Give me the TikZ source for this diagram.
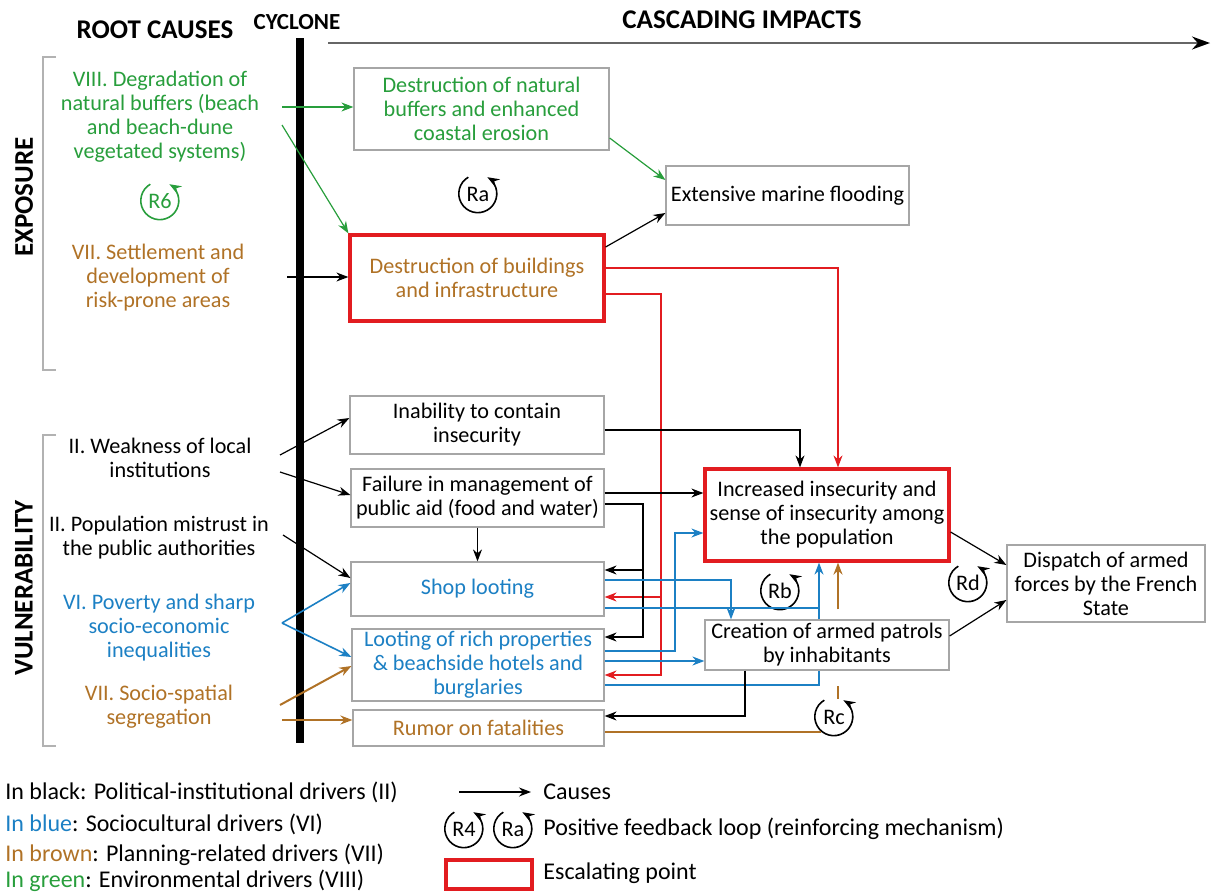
\documentclass[tikz,border=0pt]{standalone}
\usepackage{fontspec}
\setmainfont{Carlito}
\usetikzlibrary{arrows.meta}
\definecolor{cgreen}{RGB}{40,158,60}
\definecolor{cbrown}{RGB}{176,114,38}
\definecolor{cblue}{RGB}{28,128,196}
\definecolor{cred}{RGB}{226,28,32}
\tikzset{>={Stealth[length=6pt,width=4.5pt]}}
\newcommand{\fbloop}[2][black]{\draw[->, #1, line width=0.8pt] (#2.120) arc[start angle=120, end angle=420, radius=9.5pt];}

\begin{document}
\begin{tikzpicture}[x=0.5pt,y=-0.5pt,
    txt/.style={align=center, inner sep=0pt, font=\fontsize{11.1}{12}\selectfont},
    lgtxt/.style={anchor=west, inner sep=0pt, font=\fontsize{12}{14}\selectfont},
    box/.style={txt, draw=gray!70, line width=0.6pt, fill=white},
    escal/.style={txt, draw=cred, line width=1.6pt, fill=white},
    head/.style={inner sep=0pt, font=\fontsize{13.5}{16}\selectfont\bfseries},
    lp/.style={circle, inner sep=0pt, minimum size=19pt, font=\fontsize{11.1}{12}\selectfont},
    blk/.style={->, line width=0.6pt},
    grn/.style={->, cgreen, line width=0.6pt},
    brn/.style={->, cbrown, line width=1pt},
    blu/.style={->, cblue, line width=0.8pt},
    rd/.style={->, cred, line width=0.6pt}]
\useasboundingbox (0,0) rectangle (1211,894);

% headings
\node[head] (root) at (155,30) {ROOT CAUSES};
\node[head, font=\fontsize{11.5}{14}\selectfont\bfseries] (cyc) at (297,22) {CYCLONE};
\node[head] (casc) at (742,20) {CASCADING IMPACTS};
\node[head, rotate=90] (expo) at (24,197) {EXPOSURE};
\node[head, rotate=90] (vuln) at (24,588) {VULNERABILITY};
\coordinate (tl0) at (328,43);
\coordinate (tl1) at (1210,43);
\draw[gray!80!black, line width=0.8pt, -{Stealth[black,length=9pt,width=6.5pt]}] (tl0) -- (tl1);
\draw[line width=4pt] (300,38) -- (300,743);
\draw[gray!60, line width=0.6pt] (56,57) -| (43,370) -- (56,370);
\draw[gray!60, line width=0.6pt] (56,435) -| (43,746) -- (56,746);

% root causes
\node[txt, text=cgreen] (deg) at (160,117) {VIII. Degradation of\\natural buffers (beach\\and beach-dune\\vegetated systems)};
\node[lp, text=cgreen] (r6) at (160,201) {R6};
\node[txt, text=cbrown] (settle) at (158,278) {VII. Settlement and\\development of\\risk-prone areas};
\node[txt] (weak) at (160,458) {II. Weakness of local\\institutions};
\node[txt] (mistr) at (159,538) {II. Population mistrust in\\the public authorities};
\node[txt, text=cblue] (pov) at (159,628) {VI. Poverty and sharp\\socio-economic\\inequalities};
\node[txt, text=cbrown] (segr) at (159,707) {VII. Socio-spatial\\segregation};

% impacts
\node[box, text=cgreen, minimum width=127.5pt, minimum height=41pt] (nat) at (481.5,109) {Destruction of natural\\buffers and enhanced\\coastal erosion};
\node[escal, text=cbrown, minimum width=127pt, minimum height=43pt] (bld) at (477,278) {Destruction of buildings\\and infrastructure};
\node[box, minimum width=121.5pt, minimum height=29.5pt] (flood) at (787.5,195.5) {Extensive marine flooding};
\node[box, minimum width=127pt, minimum height=29pt] (inab) at (477,425) {Inability to contain\\insecurity};
\node[box, minimum width=126.5pt, minimum height=29pt] (fail) at (477.5,498) {Failure in management of\\public aid (food and water)};
\node[box, text=cblue, minimum width=126.5pt, minimum height=27pt] (shop) at (477.5,589) {Shop looting};
\node[box, text=cblue, minimum width=126pt, minimum height=36pt] (rich) at (478,665) {Looting of rich properties\\\& beachside hotels and\\burglaries};
\node[box, text=cbrown, minimum width=125.5pt, minimum height=18pt] (rumor) at (478.5,728) {Rumor on fatalities};
\node[escal, minimum width=122pt, minimum height=46pt] (insec) at (827,515) {Increased insecurity and\\sense of insecurity among\\the population};
\node[box, minimum width=122pt, minimum height=25pt] (patrol) at (827,645) {Creation of armed patrols\\by inhabitants};
\node[box, minimum width=99pt, minimum height=38.5pt] (disp) at (1106,583.5) {Dispatch of armed\\forces by the French\\State};

% loops
\node[lp] (ra) at (478,194) {Ra};
\node[lp] (rb) at (780,591) {Rb};
\node[lp] (rc) at (834,717) {Rc};
\node[lp] (rd) at (968,583) {Rd};
\foreach \l in {ra,rb,rc,rd} {\fbloop{\l}}
\fbloop[cgreen]{r6}

% free ends at the root causes
\coordinate (s1) at (282,107);
\coordinate (s2) at (282,125);
\coordinate (s3) at (287,277);
\coordinate (s4) at (280,455);
\coordinate (s5) at (280,472);
\coordinate (s6) at (283,535);
\coordinate (s7) at (282,623);
\coordinate (s8) at (280,705);
\coordinate (s9) at (282,720);

\draw[grn] (s1) -- (s1 -| nat.west);
\draw[grn] (s2) -- (bld.north west);
\draw[grn] (nat.east |- 0,138) -- (flood.west |- 0,180);
\draw[blk] (s3) -- (s3 -| bld.west);
\draw[blk] (bld.east |- 0,247) -- (flood.west |- 0,213);
\draw[rd] (bld.east |- 0,268) -| (insec.north -| 838,0);
\draw[rd] (bld.east |- 0,294) -| (661,675) -- (rich.east |- 0,675);
\draw[rd] (661,597) -- (shop.east |- 0,597);

\draw[blk] (s4) -- (inab.west |- 0,418);
\draw[blk] (s5) -- (fail.west |- 0,495);
\draw[blk] (s6) -- (shop.west |- 0,578);
\draw[blu] (s7) -- (shop.west |- 0,583);
\draw[blu] (s7) -- (rich.west |- 0,657);
\draw[brn] (s8) -- (rich.west |- 0,666);
\draw[brn] (s9) -- (s9 -| rumor.west);

\draw[blk] (inab.east |- 0,430) -| (insec.north -| 800,0);
\draw[blk] (fail.east |- 0,493) -- (insec.west |- 0,493);
\draw[blk] (fail.east |- 0,504) -| (643,637) -- (rich.east |- 0,637);
\draw[blk] (643,570) -- (shop.east |- 0,570);
\draw[blk] (fail.south) -- (shop.north);

\draw[blu] (shop.east |- 0,580) -| (patrol.north -| 731,0);
\draw[blu, -] (shop.east |- 0,608) -- (819,608);
\draw[blu] (patrol.north -| 819,0) -- (insec.south -| 819,0);
\draw[blu, -] (rich.east |- 0,685) -| (patrol.south -| 819,0);
\draw[blu] (rich.east |- 0,651) -| (675,533) -- (insec.west |- 0,533);
\draw[blu] (rich.east |- 0,661) -- (patrol.west |- 0,661);

\draw[blk] (patrol.south -| 745,0) |- (rumor.east |- 0,716);
\draw[brn, -] (rumor.east |- rc.229) -- (rc.229);
\draw[brn, -] (838,686) -- (838,699);
\draw[brn] (patrol.north -| 838,0) ++(0,-10) -- (insec.south -| 838,0);

\draw[blk] (insec.east |- 0,532) -- (disp.west |- 0,565);
\draw[blk] (patrol.east |- 0,636) -- (disp.west |- 0,600);

% legend
\node[lgtxt] (lgblack) at (5,792) {In black: Political-institutional drivers (II)};
\node[lgtxt] (lgblue) at (5,824) {\textcolor{cblue}{In blue}: Sociocultural drivers (VI)};
\node[lgtxt] (lgbrown) at (5,855) {\textcolor{cbrown}{In brown}: Planning-related drivers (VII)};
\node[lgtxt] (lggreen) at (5,881) {\textcolor{cgreen}{In green}: Environmental drivers (VIII)};
\coordinate (lgarr) at (459,792);
\node[lgtxt] (lgcause) at (543,792) {Causes};
\draw[blk] (lgarr) -- ([xshift=-6pt]lgcause.west);
\node[lp] (lgr4) at (464,829) {R4};
\node[lp] (lgra) at (513,829) {Ra};
\fbloop{lgr4}
\fbloop{lgra}
\node[lgtxt] (lgloop) at (543,829) {Positive feedback loop (reinforcing mechanism)};
\node[escal, minimum width=43pt, minimum height=14.5pt] (lgesc) at (489,874.5) {};
\node[lgtxt] (lgesctxt) at (543,873) {Escalating point};
\end{tikzpicture}
\end{document}
